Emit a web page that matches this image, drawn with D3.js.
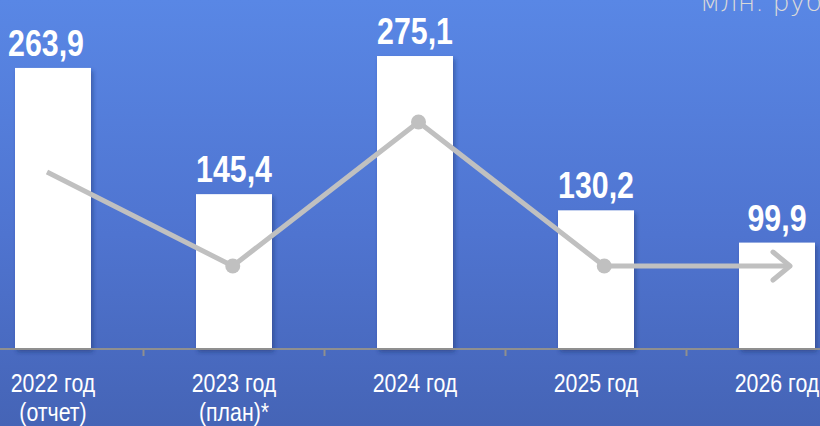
<!DOCTYPE html>
<html><head><meta charset="utf-8">
<script src="https://cdn.jsdelivr.net/npm/d3@7"></script>
<style>html,body{margin:0;padding:0;overflow:hidden;background:#4f74d0}</style>
</head><body>
<svg id="c" width="820" height="426"></svg>
<script>
const categories = ["2022 год|(отчет)", "2023 год|(план)*", "2024 год", "2025 год", "2026 год"];
const values = [263.9, 145.4, 275.1, 130.2, 99.9];
const valueLabels = ["263,9", "145,4", "275,1", "130,2", "99,9"];
const trend = [166.2, 77.9, 213.1, 77.9, 77.9];
const unitLabel = "млн. руб.";

const W = 820, H = 426;
const narrow = 0.82;
const svg = d3.select("#c");
const defs = svg.append("defs");
const g = defs.append("linearGradient").attr("id","bg").attr("x1",0).attr("y1",0).attr("x2",0).attr("y2",1);
g.append("stop").attr("offset","0%").attr("stop-color","#5987e5");
g.append("stop").attr("offset","55%").attr("stop-color","#4f74d0");
g.append("stop").attr("offset","100%").attr("stop-color","#4564b6");
const f = defs.append("filter").attr("id","sh").attr("x","-20%").attr("y","-20%").attr("width","150%").attr("height","150%");
f.append("feDropShadow").attr("dx",2).attr("dy",3).attr("stdDeviation",2).attr("flood-color","#1d2f66").attr("flood-opacity",0.45);

svg.append("rect").attr("width",W).attr("height",H).attr("fill","url(#bg)");

const x = d3.scaleBand().domain(d3.range(categories.length)).range([-37.5, 867.5]).paddingInner(0).paddingOuter(0);
const y = d3.scaleLinear().domain([0, 300]).range([349, 29.5]);
const barW = 76;
const cx = i => x(i) + x.bandwidth()/2;

// bars
svg.append("g").selectAll("rect").data(values).join("rect")
  .attr("x",(d,i)=>cx(i)-barW/2)
  .attr("y",d=>y(d))
  .attr("width",barW)
  .attr("height",d=>y(0)-y(d))
  .attr("fill","#ffffff")
  .attr("filter","url(#sh)");

// axis
svg.append("line").attr("x1",0).attr("x2",W).attr("y1",y(0)).attr("y2",y(0)).attr("stroke","#8f8f8f").attr("stroke-width",2);
svg.append("g").selectAll("line").data(d3.range(1,categories.length)).join("line")
  .attr("x1",i=>x(i)).attr("x2",i=>x(i)).attr("y1",y(0)).attr("y2",y(0)+7)
  .attr("stroke","#8f8f8f").attr("stroke-width",2);

// trend line
const xp = d3.scalePoint().domain(d3.range(trend.length)).range([47, 790]);
const line = d3.line().x((d,i)=>xp(i)).y(d=>y(d));
svg.append("path").datum(trend).attr("d",line).attr("fill","none")
  .attr("stroke","#c0c0c0").attr("stroke-width",5).attr("stroke-linejoin","round");
svg.append("g").selectAll("circle").data(trend.slice(1,4)).join("circle")
  .attr("cx",(d,i)=>xp(i+1)).attr("cy",d=>y(d)).attr("r",7.5).attr("fill","#c0c0c0");
const last = trend.length-1, tx = xp(last), ty = y(trend[last]);
svg.append("path").attr("d",`M${tx-17},${ty-14}L${tx},${ty}L${tx-17},${ty+14}`)
  .attr("fill","none").attr("stroke","#c0c0c0").attr("stroke-width",5).attr("stroke-linecap","round").attr("stroke-linejoin","round");

// value labels
svg.append("g").selectAll("text").data(values).join("text")
  .attr("transform",(d,i)=>`translate(${cx(i) - (i===0 ? 7 : 0)},${y(d)-12}) scale(${narrow},1)`)
  .attr("text-anchor","middle")
  .attr("fill","#ffffff")
  .attr("font-family","'Liberation Sans',Arial,sans-serif")
  .attr("font-weight","bold")
  .attr("font-size",37)
  .text((d,i)=>valueLabels[i]);

// category labels
const cl = svg.append("g").selectAll("text").data(categories).join("text")
  .attr("transform",(d,i)=>`translate(${cx(i)},392) scale(${narrow},1)`)
  .attr("text-anchor","middle")
  .attr("fill","#ffffff")
  .attr("font-family","'Liberation Sans',Arial,sans-serif")
  .attr("font-size",26);
cl.each(function(d){
  const t = d3.select(this);
  d.split("|").forEach((p,k)=>t.append("tspan").attr("x",0).attr("dy",k?29:0).text(p));
});

// unit label
svg.append("text").attr("x",700).attr("y",11).attr("fill","#d9d9d9")
  .attr("font-family","'DejaVu Sans','Open Sans',sans-serif").attr("font-weight",200)
  .attr("font-size",27).text(unitLabel);
</script>
</body></html>
